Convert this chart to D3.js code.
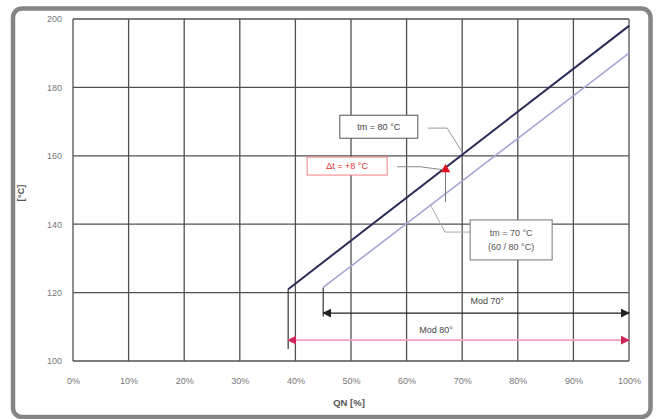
<!DOCTYPE html>
<html><head><meta charset="utf-8">
<script src="https://cdn.jsdelivr.net/npm/d3@7"></script>
<style>body{margin:0;background:#fff}svg{display:block;font-family:"Liberation Sans",Arial,sans-serif}</style>
</head><body><svg id="c" width="656" height="419"></svg>
<script>
// ---- data ----
const xTicks = [0,10,20,30,40,50,60,70,80,90,100];
const xTickLabels = ["0%","10%","20%","30%","40%","50%","60%","70%","80%","90%","100%"];
const yTicks = [100,120,140,160,180,200];
const line80 = [[38.7,121],[100,198]];      // tm = 80 °C
const line70 = [[45,121.5],[100,190]];      // tm = 70 °C (60/80 °C)
const markerPt = [67,156];                  // Δt = +8 °C
const markerDrop = [67,146.5];
const mod80 = {from:38.7, to:100, y:106.1, label:"Mod 80°", lx:65.3, ly:109};
const mod70 = {from:45, to:100, y:114, label:"Mod 70°", lx:74.5, ly:117.5};
const drop80 = [[38.7,121],[38.7,103.5]];
const drop70 = [[45,121.5],[45,113]];

const svg = d3.select("#c");
const x = d3.scaleLinear().domain([0,100]).range([73,629]);
const y = d3.scaleLinear().domain([100,200]).range([361,19]);

// outer frame
svg.append("rect").attr("x",13).attr("y",8.5).attr("width",637.5).attr("height",408.5)
  .attr("rx",9).attr("fill","#fff").attr("stroke","#858585").attr("stroke-width",4.5);

// grid
const g = svg.append("g");
g.selectAll(".vx").data(xTicks).join("line")
  .attr("x1",d=>x(d)).attr("x2",d=>x(d)).attr("y1",y(200)).attr("y2",y(100))
  .attr("stroke","#505050").attr("stroke-width",1.3);
g.selectAll(".hy").data(yTicks).join("line")
  .attr("y1",d=>y(d)).attr("y2",d=>y(d)).attr("x1",x(0)).attr("x2",x(100))
  .attr("stroke","#505050").attr("stroke-width",1.3);

// axes labels via d3 axes
const xa = svg.append("g").attr("transform",`translate(0,${y(100)+14})`)
  .call(d3.axisBottom(x).tickValues(xTicks).tickFormat((d,i)=>xTickLabels[i]).tickSize(0));
xa.select(".domain").remove();
xa.selectAll("text").attr("fill","#777").attr("font-size",9);
const ya = svg.append("g").attr("transform",`translate(${x(0)-8},0)`)
  .call(d3.axisLeft(y).tickValues(yTicks).tickSize(0));
ya.select(".domain").remove();
ya.selectAll("text").attr("fill","#777").attr("font-size",9).attr("dy","0.32em");

svg.append("text").attr("x",349).attr("y",406).attr("text-anchor","middle")
  .attr("font-size",9.5).attr("font-weight","bold").attr("fill","#555").text("QN [%]");
svg.append("text").attr("transform","translate(24,193) rotate(-90)").attr("text-anchor","middle")
  .attr("font-size",9.5).attr("font-weight","bold").attr("fill","#555").text("[°C]");

// markers
const defs = svg.append("defs");
function arrow(id,color){
  defs.append("marker").attr("id",id).attr("viewBox","0 0 10 10").attr("refX",9).attr("refY",5)
    .attr("markerWidth",9).attr("markerHeight",9).attr("markerUnits","userSpaceOnUse")
    .attr("orient","auto-start-reverse")
    .append("path").attr("d","M0,0L10,5L0,10Z").attr("fill",color);
}
arrow("ab","#222"); arrow("ar","#d0245a");

const ln = d3.line().x(d=>x(d[0])).y(d=>y(d[1]));

// drop lines
svg.append("path").attr("d",ln(drop80)).attr("stroke","#333").attr("stroke-width",1.2).attr("fill","none");
svg.append("path").attr("d",ln(drop70)).attr("stroke","#333").attr("stroke-width",1.2).attr("fill","none");

// Mod arrows
svg.append("line").attr("x1",x(mod80.from)).attr("x2",x(mod80.to)).attr("y1",y(mod80.y)).attr("y2",y(mod80.y))
  .attr("stroke","#f2a2b4").attr("stroke-width",1.6)
  .attr("marker-start","url(#ar)").attr("marker-end","url(#ar)");
svg.append("line").attr("x1",x(mod70.from)).attr("x2",x(mod70.to)).attr("y1",y(mod70.y)).attr("y2",y(mod70.y))
  .attr("stroke","#222").attr("stroke-width",1.2)
  .attr("marker-start","url(#ab)").attr("marker-end","url(#ab)");
[mod80,mod70].forEach(m=>{
  svg.append("text").attr("x",x(m.lx)).attr("y",y(m.ly)).attr("text-anchor","middle").attr("dy","0.35em")
    .attr("font-size",9).attr("fill","#444").text(m.label);
});

// main lines
svg.append("path").attr("d",ln(line70)).attr("stroke","#a4a6d6").attr("stroke-width",1.6).attr("fill","none");
svg.append("path").attr("d",ln(line80)).attr("stroke","#2a2c58").attr("stroke-width",2).attr("fill","none");

// marker drop + triangle
svg.append("path").attr("d",ln([markerPt,markerDrop])).attr("stroke","#777").attr("stroke-width",1).attr("fill","none");
svg.append("path").attr("d",d3.symbol(d3.symbolTriangle,40)()).attr("fill","#e0101c")
  .attr("transform",`translate(${x(markerPt[0])},${y(markerPt[1])})`);

// leaders
function leader(pts,color){
  svg.append("path").attr("d",ln(pts)).attr("stroke",color).attr("stroke-width",1).attr("fill","none");
}
leader([[63.8,168.1],[67.3,168.1],[70.1,160.8]],"#999");
leader([[58.3,156.8],[62.4,156.8],[66.6,155.9]],"#888");
leader([[71.4,137.7],[66.9,137.7],[64.3,145.6]],"#aaa");

// boxes
function box(cx,cy,w,h,lines,stroke,fill){
  svg.append("rect").attr("x",x(cx)-w/2).attr("y",y(cy)-h/2).attr("width",w).attr("height",h)
    .attr("fill","#fff").attr("stroke",stroke).attr("stroke-width",1);
  lines.forEach((t,i)=>{
    svg.append("text").attr("x",x(cx)).attr("y",y(cy)+(i-(lines.length-1)/2)*14)
      .attr("dy","0.35em").attr("text-anchor","middle").attr("font-size",9).attr("fill",fill).text(t);
  });
}
box(55,168.5,78,23,["tm = 80 °C"],"#555","#444");
box(49.3,157,80,18,["Δt = +8 °C"],"#f08080","#e03030");
box(78.8,135.4,82,40,["tm = 70 °C","(60 / 80 °C)"],"#777","#555");
</script></body></html>
